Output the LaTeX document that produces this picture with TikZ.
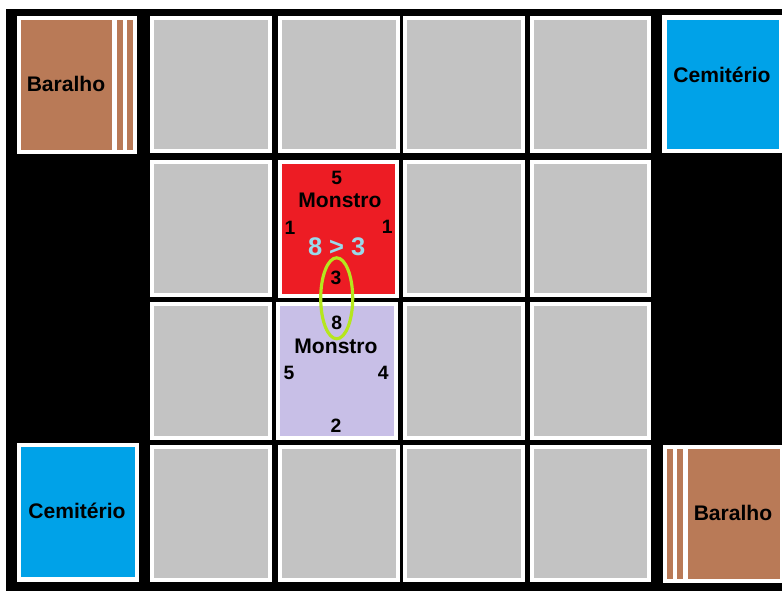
\documentclass[tikz,border=0pt]{standalone}
\usepackage{fontspec}
\setmainfont{Liberation Sans}
\usepackage{xcolor}
\usepackage{tikz}
\usetikzlibrary{shapes.geometric}

\definecolor{cellgray}{HTML}{C3C3C3}
\definecolor{deckbrown}{HTML}{B97A57}
\definecolor{graveblue}{HTML}{00A2E8}
\definecolor{monsterred}{HTML}{ED1C24}
\definecolor{monsterlilac}{HTML}{C8BFE7}
\definecolor{duellime}{HTML}{B5E61D}
\definecolor{duelblue}{HTML}{99D9EA}

\begin{document}
\begin{tikzpicture}[x=0.02cm,y=-0.02cm,
    cell/.style={draw=white, line width=2.27pt, minimum width=2.36cm,
      minimum height=2.68cm, inner sep=0pt},
    cardtext/.style={font=\fontsize{12}{14}\selectfont\bfseries},
    monstertext/.style={font=\fontsize{12}{14}\selectfont\bfseries},
    stat/.style={font=\fontsize{11}{13}\selectfont\bfseries, inner sep=0pt}]
                \useasboundingbox (0,0) rectangle (782,591);
                \fill[black] (6,9) rectangle (782,591);
                % empty board cells
                \foreach \x/\c in {211/1,339/2,464/3,590.5/4} {
                    \node[cell, fill=cellgray] (top\c) at (\x,84.5) {};
                    \node[cell, fill=cellgray] (bot\c) at (\x,513.5) {};
                }
                \foreach \x/\c in {211/1,464/3,590.5/4} {
                    \node[cell, fill=cellgray] (rowA\c) at (\x,228.5) {};
                    \node[cell, fill=cellgray] (rowB\c) at (\x,371) {};
                }
                % decks
                \fill[white] (17,16) rectangle (137,154);
                \fill[deckbrown] (21,20) rectangle (112,150);
                \foreach \s in {117,127}
                    \fill[deckbrown] (\s,20) rectangle (\s+6,150);
                \node[cardtext] (baralhoA) at (66,84) {Baralho};
                \fill[white] (663,445) rectangle (782,583);
                \foreach \s in {667,677}
                    \fill[deckbrown] (\s,449) rectangle (\s+6,579);
                \fill[deckbrown] (688,449) rectangle (780,579);
                \node[cardtext] (baralhoB) at (733,513) {Baralho};
                % graveyards
                \fill[white] (662,15) rectangle (782,153);
                \fill[graveblue] (667,20) rectangle (779,149);
                \node[cardtext] (cemiterioA) at (722,75) {Cemitério};
                \fill[white] (17,443) rectangle (139,582);
                \fill[graveblue] (21,447) rectangle (135,577);
                \node[cardtext] (cemiterioB) at (77,511) {Cemitério};
                % attacking monster
                \node[cell, fill=monsterred] (red) at (338.5,229) {};
                \node[stat] (redN) at (336.7,178.3) {5};
                \node[monstertext] (redname) at (340,200.7) {Monstro};
                \node[stat] (redW) at (290,228) {1};
                \node[stat] (redE) at (387.3,226.7) {1};
                \node[stat] (redS) at (336,278.3) {3};
                \node[font=\fontsize{14.5}{16}\selectfont\bfseries, text=duelblue] (compare) at (336.7,246.7) {8 > 3};
                % defending monster
                \node[cell, fill=monsterlilac] (lilac) at (337,371) {};
                \node[stat] (lilacN) at (336.7,322.7) {8};
                \node[monstertext] (lilacname) at (336,346.7) {Monstro};
                \node[stat] (lilacW) at (289,372.7) {5};
                \node[stat] (lilacE) at (383.3,373.3) {4};
                \node[stat] (lilacS) at (336,426) {2};
                \node[draw=duellime, line width=1.8pt, ellipse, minimum width=0.64cm,
                    minimum height=1.62cm, inner sep=0pt] (duel) at (336.7,298.3) {};
            \end{tikzpicture}
\end{document}
